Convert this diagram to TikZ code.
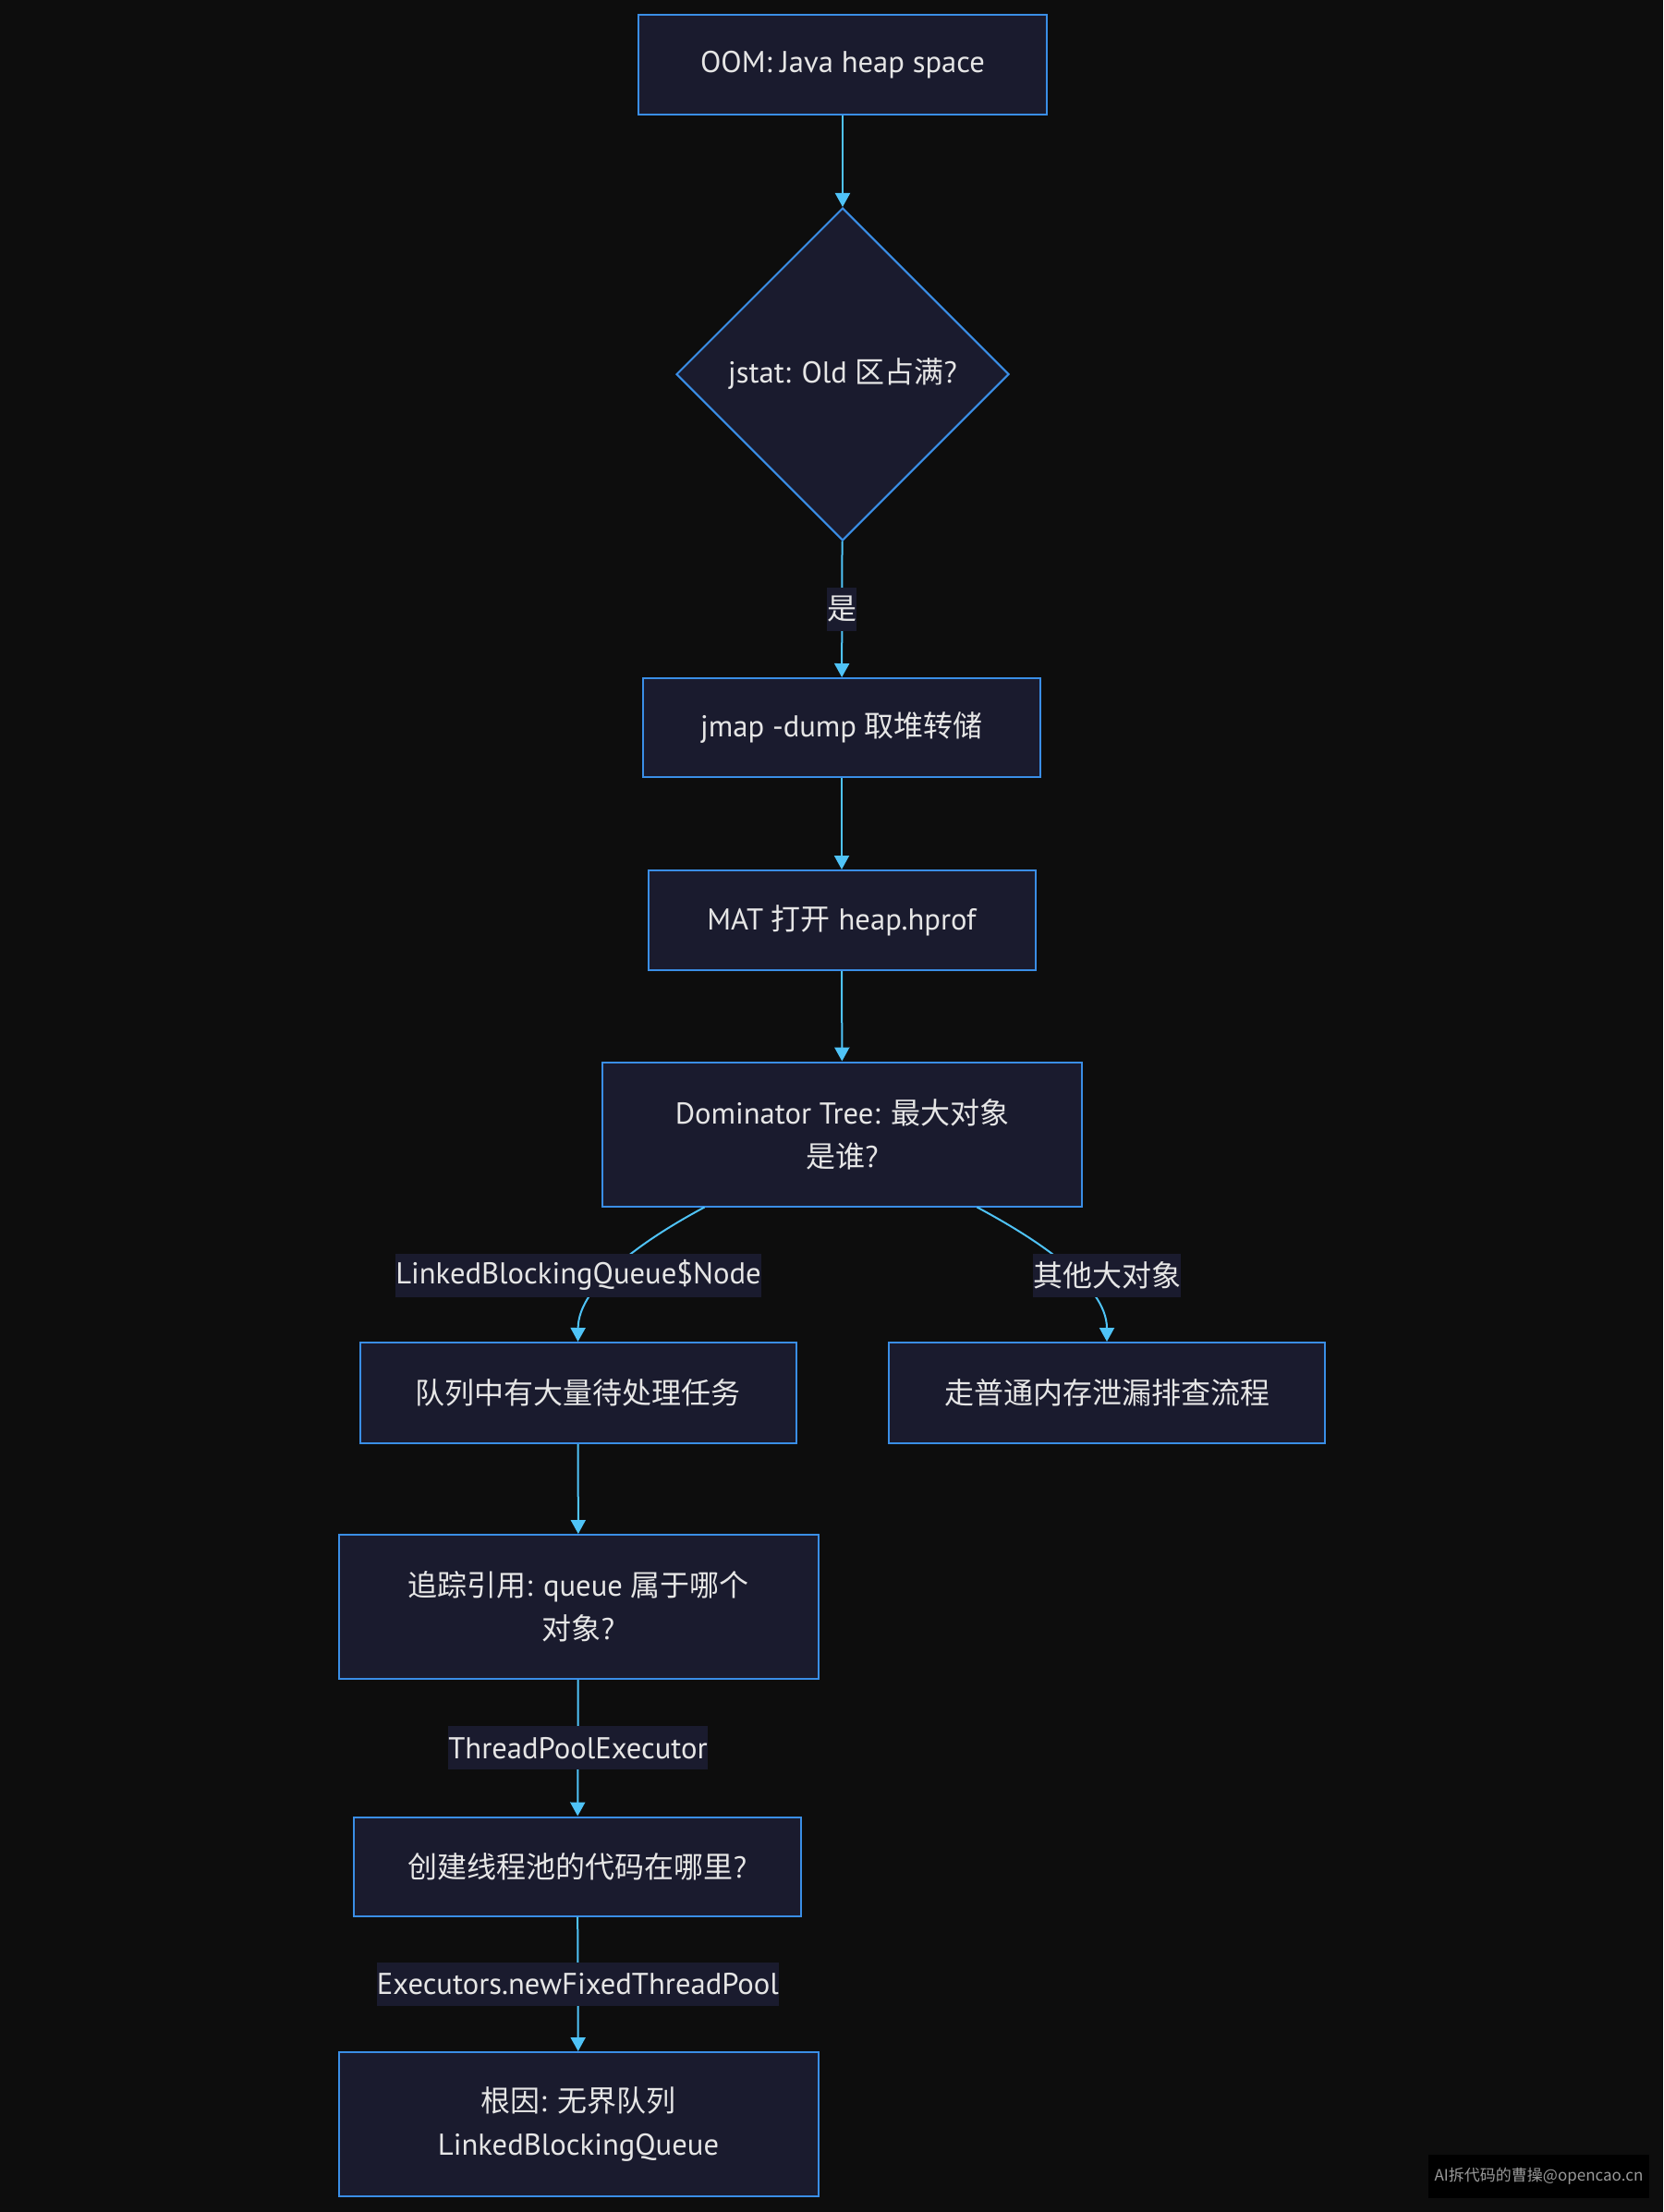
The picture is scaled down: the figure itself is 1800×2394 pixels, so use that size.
\documentclass[tikz,border=0pt]{standalone}
\usepackage{fontspec}
\setmainfont[Scale=1.02]{PT Sans}
\newfontfamily\cjk{Noto Sans CJK SC}
\usetikzlibrary{shapes.geometric,arrows.meta}

\definecolor{bgcol}{HTML}{0D0D0D}
\definecolor{boxfill}{HTML}{1A1B2E}
\definecolor{boxline}{HTML}{3A8EE6}
\definecolor{edgecol}{HTML}{4FC3F7}
\definecolor{txtcol}{HTML}{E6E6E6}

\tikzset{
  flowbox/.style={draw=boxline, fill=boxfill, line width=1pt, text=txtcol,
    align=center, inner sep=0pt, font=\fontsize{16}{23.5}\selectfont},
  decision/.style={flowbox, diamond, aspect=1, minimum width=180pt, minimum height=180pt},
  edgelabel/.style={fill=boxfill, text=txtcol, inner sep=0pt, minimum height=23.5pt,
    font=\fontsize{16}{23.5}\selectfont},
  flow/.style={draw=edgecol, line width=1pt, -{Triangle[length=7.5pt,width=8pt]}},
}

\begin{document}
\begin{tikzpicture}[x=0.5pt, y=-0.5pt]

  %% Background
  \fill[bgcol] (0,0) rectangle (1800,2394);
  \useasboundingbox (0,0) rectangle (1800,2394);

  %% Main column
  \node[flowbox, minimum width=221pt, minimum height=54pt] (oom) at (912,70) {OOM: Java heap space};
  \node[decision] (jstat) at (912,405) {jstat: Old {\cjk 区占满}?};
  \node[flowbox, minimum width=215pt, minimum height=53.5pt] (jmap) at (911,787.5) {jmap -dump {\cjk 取堆转储}};
  \node[flowbox, minimum width=209.5pt, minimum height=54pt] (mat) at (911,996) {MAT {\cjk 打开} heap.hprof};
  \node[flowbox, minimum width=259.5pt, minimum height=78pt] (dom) at (911.5,1227.5) {Dominator Tree: {\cjk 最大对象}\\{\cjk 是谁}?};

  %% Branches
  \node[flowbox, minimum width=236pt, minimum height=54.5pt] (queue) at (625.5,1507.5) {\cjk 队列中有大量待处理任务};
  \node[flowbox, minimum width=236pt, minimum height=54.5pt] (leak) at (1198,1507.5) {\cjk 走普通内存泄漏排查流程};
  \node[flowbox, minimum width=259.5pt, minimum height=78pt] (trace) at (626,1739) {{\cjk 追踪引用}: queue {\cjk 属于哪个}\\{\cjk 对象}?};
  \node[flowbox, minimum width=242pt, minimum height=53.5pt] (pool) at (625,2020) {{\cjk 创建线程池的代码在哪里}?};
  \node[flowbox, minimum width=259.5pt, minimum height=78pt] (cause) at (626,2299) {{\cjk 根因}: {\cjk 无界队列}\\LinkedBlockingQueue};

  %% Edges
  \draw[flow] (oom) -- (jstat);
  \draw[flow] (jstat) -- node[edgelabel]{\cjk 是} (jmap);
  \draw[flow] (jmap) -- (mat);
  \draw[flow] (mat) -- (dom);
  \draw[flow] ([xshift=-74.5pt]dom.south) .. controls (700,1340) and (626,1390) .. (queue.north);
  \draw[flow] ([xshift=73pt]dom.south) .. controls (1120,1340) and (1198,1390) .. (leak.north);
  \draw[flow] (queue) -- (trace);
  \draw[flow] (trace) -- node[edgelabel]{ThreadPoolExecutor} (pool);
  \draw[flow] (pool) -- node[edgelabel]{Executors.newFixedThreadPool} (cause);

  %% Labels on the curved edges
  \node[edgelabel] (lbq) at (626,1380) {LinkedBlockingQueue\$Node};
  \node[edgelabel] (other) at (1198,1380) {\cjk 其他大对象};

  %% Watermark
  \node[fill=black, text=gray!80, inner sep=0pt, minimum width=119.5pt, minimum height=23.5pt,
    font=\cjk\fontsize{8.5}{10}\selectfont] (mark) at (1665.5,2355.5) {AI拆代码的曹操@opencao.cn};

\end{tikzpicture}
\end{document}
